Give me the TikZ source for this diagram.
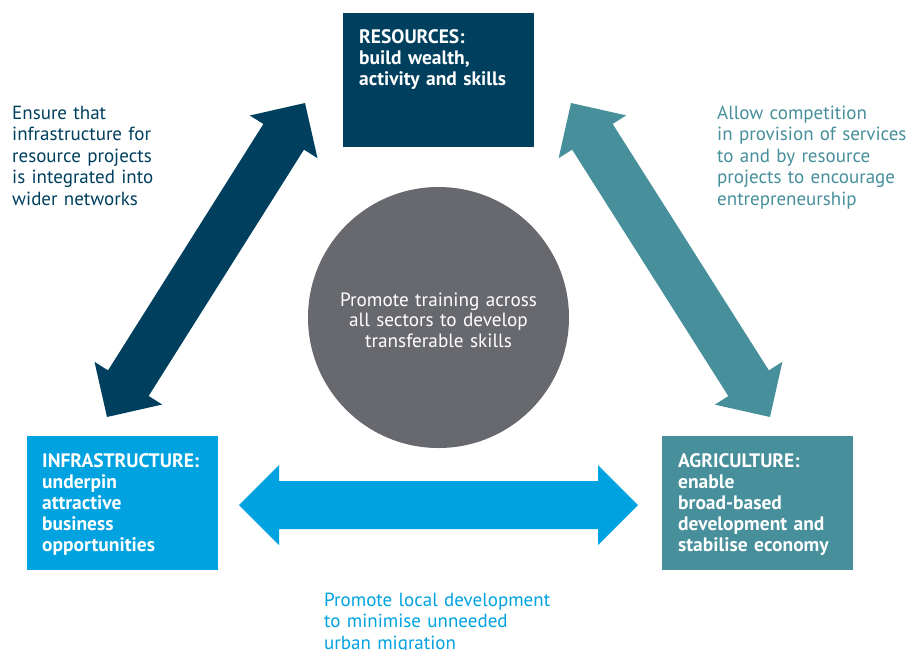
\documentclass[tikz,border=0pt]{standalone}
\usepackage{fontspec}
\setmainfont{PT Sans}
\usetikzlibrary{calc}

\definecolor{navy}{RGB}{0,63,94}
\definecolor{skyblue}{RGB}{0,162,224}
\definecolor{tealc}{RGB}{70,143,155}
\definecolor{slate}{RGB}{103,105,111}

% Broad two-headed arrow between two named points
\newcommand\twowayarrow[3]{%
  \coordinate (#1-h) at ($(#1)!40pt!(#2)$);
  \coordinate (#2-h) at ($(#2)!40pt!(#1)$);
  \fill[#3] (#1) -- ($(#1-h)!40pt!90:(#2)$) -- ($(#1-h)!24pt!90:(#2)$)
    -- ($(#2-h)!24pt!-90:(#1)$) -- ($(#2-h)!40pt!-90:(#1)$) -- (#2)
    -- ($(#2-h)!40pt!90:(#1)$) -- ($(#2-h)!24pt!90:(#1)$)
    -- ($(#1-h)!24pt!-90:(#2)$) -- ($(#1-h)!40pt!-90:(#2)$) -- cycle;}

\tikzset{
  sector/.style={rectangle, draw=none, minimum width=191pt, minimum height=134pt, inner sep=0pt},
  boxtext/.style={anchor=base west, inner sep=0pt, text width=180pt, align=left, text=white,
    font={\fontsize{19.5}{21}\selectfont\bfseries}},
  sidetext/.style={anchor=base west, inner sep=0pt, text width=320pt, align=left,
    font={\fontsize{19}{21.5}\selectfont}},
  hubtext/.style={anchor=base, inner sep=0pt, text width=260pt, align=center, text=white,
    font={\fontsize{19.2}{20.7}\selectfont}},
}

\begin{document}
\begin{tikzpicture}[x=1pt,y=-1pt]
\useasboundingbox (0,0) rectangle (908,649);

% sectors
\node[sector, fill=navy] (res) at (438.5,80) {};
\node[sector, fill=skyblue] (inf) at (122.5,502.5) {};
\node[sector, fill=tealc] (agr) at (757.5,502.5) {};

\node[boxtext] (res-t) at (359,43) {RESOURCES:\\ build wealth,\\ activity and skills};
\node[boxtext] (inf-t) at (42,467) {INFRASTRUCTURE:\\ underpin\\ attractive\\ business\\ opportunities};
\node[boxtext] (agr-t) at (678,467) {AGRICULTURE:\\ enable\\ broad-based\\ development and\\ stabilise economy};

% central hub
\node[circle, fill=slate, minimum size=261pt, inner sep=0pt] (hub) at (438.5,317.5) {};
\node[hubtext] (hub-t) at (438.5,306) {Promote training across\\ all sectors to develop\\ transferable skills};

% links between sectors
\coordinate (l1) at (305,103);
\coordinate (l2) at (107,417);
\twowayarrow{l1}{l2}{navy}
\coordinate (r1) at (571,103);
\coordinate (r2) at (770,417);
\twowayarrow{r1}{r2}{tealc}
\coordinate (b1) at (239,505);
\coordinate (b2) at (638,505);
\twowayarrow{b1}{b2}{skyblue}

% link labels
\node[sidetext, text=navy] (l-t) at (12,119) {Ensure that\\ infrastructure for\\ resource projects\\ is integrated into\\ wider networks};
\node[sidetext, text=tealc] (r-t) at (717,119) {Allow competition\\ in provision of services\\ to and by resource\\ projects to encourage\\ entrepreneurship};
\node[sidetext, text=skyblue] (b-t) at (324,606) {Promote local development\\ to minimise unneeded\\ urban migration};
\end{tikzpicture}
\end{document}
